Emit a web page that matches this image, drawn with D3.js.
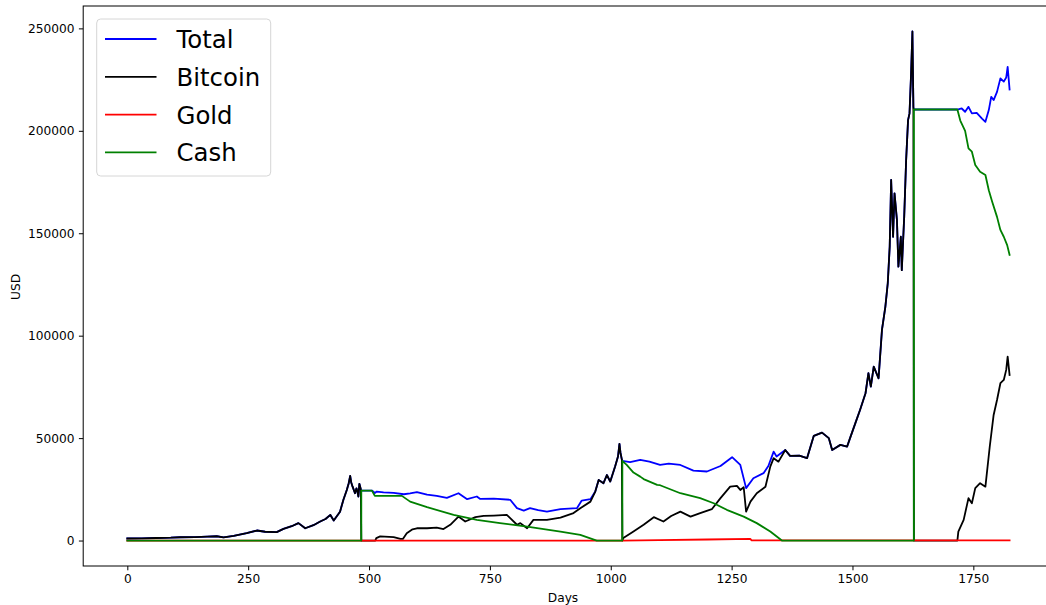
<!DOCTYPE html>
<html>
<head>
<meta charset="utf-8">
<script src="https://cdn.jsdelivr.net/npm/d3@7"></script>
<style>
  html, body { margin: 0; padding: 0; background: #fff; }
  svg { display: block; font-family: "DejaVu Sans", sans-serif; }
</style>
</head>
<body>
<svg id="chart" width="1046" height="605"></svg>
<script>
// Portfolio value by day, [day, USD]
const bitcoin = [
  [0,1000],[30,1100],[60,1250],[90,1400],[109,1600],[140,1700],[165,1900],[185,2100],[199,1600],
  [220,2300],[247,3600],[268,4900],[285,4300],[309,4100],[323,5700],[340,7000],[354,8500],[368,6000],
  [385,7500],[399,9300],[410,10500],[420,12500],[427,9800],[440,14100],[447,19900],[454,24700],
  [458,28000],[461,31600],[463,28500],[466,26300],[471,23100],[474,25500],[476,23900],[478,21500],
  [480,27700],[483,25000],[484,0],[513,0],[515,1200],[523,2000],[551,1700],[565,800],[570,800],
  [578,3600],[590,5500],[599,6000],[620,6000],[640,6300],[654,5600],[668,7700],[685,11700],[699,9300],
  [720,11400],[737,12000],[758,12200],[785,12500],[792,10900],[806,7700],[813,8500],[827,6000],
  [840,10100],[868,10100],[896,11200],[923,13400],[937,15800],[958,19000],[968,23900],[975,29600],
  [985,28000],[992,32000],[999,28800],[1009,36100],[1015,41000],[1018,47200],[1020,43000],[1023,39500],
  [1024,0],[1026,1200],[1047,4400],[1068,7700],[1089,11400],[1109,9300],[1125,12000],[1144,14100],
  [1165,11700],[1185,13400],[1209,15300],[1227,20700],[1247,26300],[1261,26700],[1268,24700],
  [1275,26000],[1280,14100],[1289,19000],[1302,23100],[1320,26300],[1330,36100],[1337,40200],
  [1347,38500],[1361,44200],[1371,41300],[1390,41500],[1406,40200],[1420,51100],[1437,52700],
  [1451,50000],[1458,44200],[1475,46700],[1489,45900],[1495,50000],[1506,57300],[1516,64000],
  [1527,71900],[1533,81700],[1538,75100],[1544,84900],[1554,79200],[1561,102800],[1568,114100],
  [1573,125600],[1577,143400],[1580,176000],[1584,148300],[1587,169500],[1592,156400],[1595,133700],
  [1600,148300],[1602,132000],[1607,158000],[1611,185700],[1615,205200],[1618,208500],[1621,226300],
  [1624,248500],[1626,211700],[1627,0],[1717,0],[1719,4400],[1730,10100],[1740,20700],[1747,18200],
  [1754,25600],[1764,28000],[1775,26300],[1784,45900],[1792,61300],[1799,68600],[1806,76800],
  [1813,78400],[1818,83300],[1821,89800],[1825,80800]
];

const gold = [
  [0,0],[1024,0],[1100,250],[1200,500],[1289,800],[1291,100],[1825,100]
];

const cash = [
  [0,0],[484,0],[484,24400],[506,24400],[512,21800],[568,21800],[585,19000],[620,16300],[675,12500],
  [723,10100],[771,8500],[827,6800],[896,4400],[937,2800],[971,0],[1024,0],[1024,38900],[1033,36900],
  [1047,33200],[1061,31200],[1068,30000],[1096,27200],[1102,27000],[1144,23100],[1185,20700],
  [1213,18200],[1240,15000],[1275,11700],[1302,8500],[1330,4400],[1354,0],[1627,0],[1627,210400],
  [1717,210400],[1723,205000],[1733,200000],[1740,191400],[1747,189800],[1754,183300],[1764,180000],
  [1775,178400],[1782,171000],[1789,165400],[1799,158000],[1806,151600],[1813,148300],[1820,144200],
  [1825,139400]
];

// Total where cash is held alongside bitcoin
const totalMixedA = [
  [484,24400],[506,24400],[512,23200],[516,23900],[530,23500],[551,23300],[572,22600],[585,23000],
  [599,23600],[620,22400],[640,21800],[661,20800],[685,23100],[703,20200],[723,21500],[730,20300],
  [758,20500],[792,19900],[806,15800],[820,14600],[833,15800],[850,14800],[868,14100],[896,15300],
  [930,15800],[940,19500],[958,20200],[968,23900]
];
const totalMixedB = [
  [1024,38900],[1040,38300],[1061,39400],[1080,38500],[1102,36900],[1120,37500],[1144,36900],
  [1171,34100],[1199,33700],[1227,36400],[1251,40700],[1268,36900],[1280,25600],[1295,30400],
  [1316,32900],[1326,36400],[1337,43400],[1343,41000],[1354,43000]
];
const totalMixedC = [
  [1627,210400],[1717,210400],[1726,210900],[1733,209300],[1740,211700],[1747,208500],[1757,208800],
  [1768,206000],[1775,204400],[1782,210100],[1787,216600],[1792,215000],[1799,219000],[1806,225600],
  [1813,224000],[1818,226000],[1821,231200],[1825,220200]
];

const xTicks = [0, 250, 500, 750, 1000, 1250, 1500, 1750];
const yTicks = [0, 50000, 100000, 150000, 200000, 250000];

// Where everything sits in bitcoin, the total is the bitcoin line itself
const total = [
  ...bitcoin.filter(([d]) => d < 484),
  ...totalMixedA,
  ...bitcoin.filter(([d]) => d >= 975 && d <= 1023),
  ...totalMixedB,
  ...bitcoin.filter(([d]) => d >= 1361 && d <= 1626),
  ...totalMixedC
];

const series = [
  { name: "Total", data: total, color: "#0000ff" },
  { name: "Bitcoin", data: bitcoin, color: "#000000" },
  { name: "Gold", data: gold, color: "#ff0000" },
  { name: "Cash", data: cash, color: "#008000" }
];

(function draw() {
  const svg = d3.select("#chart");
  const plotLeft = 83.2, plotRight = 1053.7, plotTop = 6, plotBottom = 566;

  const x = d3.scaleLinear().domain([-91.25, 1916.25]).range([plotLeft, plotRight]);
  const y = d3.scaleLinear().domain([-12425, 260925]).range([plotBottom, plotTop]);

  svg.append("clipPath").attr("id", "plot-clip")
    .append("rect").attr("x", plotLeft).attr("y", plotTop)
    .attr("width", plotRight - plotLeft).attr("height", plotBottom - plotTop);

  const line = d3.line().x(d => x(d[0])).y(d => y(d[1]));

  const plot = svg.append("g").attr("clip-path", "url(#plot-clip)");
  series.forEach(s => {
    plot.append("path")
      .datum(s.data)
      .attr("fill", "none")
      .attr("stroke", s.color)
      .attr("stroke-width", 1.8)
      .attr("stroke-linejoin", "round")
      .attr("stroke-linecap", "square")
      .attr("d", line);
  });

  // Axes
  const xAxis = d3.axisBottom(x).tickValues(xTicks).tickSize(4.3).tickPadding(4.3)
    .tickFormat(d3.format("d"));
  const yAxis = d3.axisLeft(y).tickValues(yTicks).tickSize(4.3).tickPadding(4.3)
    .tickFormat(d3.format("d"));

  const gx = svg.append("g").attr("transform", `translate(0,${plotBottom})`).call(xAxis);
  const gy = svg.append("g").attr("transform", `translate(${plotLeft},0)`).call(yAxis);
  [gx, gy].forEach(g => {
    g.select(".domain").remove();
    g.selectAll(".tick line").attr("stroke", "#000").attr("stroke-width", 1);
    g.selectAll(".tick text").attr("fill", "#000").style("font-size", "12.2px")
      .style("font-family", "'DejaVu Sans', sans-serif");
  });

  // Spines
  svg.append("rect")
    .attr("x", plotLeft).attr("y", plotTop)
    .attr("width", plotRight - plotLeft).attr("height", plotBottom - plotTop)
    .attr("fill", "none").attr("stroke", "#000").attr("stroke-width", 1);

  // Axis titles
  svg.append("text")
    .attr("x", 563).attr("y", 602)
    .attr("text-anchor", "middle").style("font-size", "12.2px").text("Days");
  svg.append("text")
    .attr("transform", "translate(20,287) rotate(-90)")
    .attr("text-anchor", "middle").style("font-size", "12.2px").text("USD");

  // Legend
  const legend = svg.append("g");
  legend.append("rect")
    .attr("x", 96.7).attr("y", 19).attr("width", 174).attr("height", 157)
    .attr("rx", 4).attr("ry", 4)
    .attr("fill", "#fff").attr("fill-opacity", 0.8)
    .attr("stroke", "#d6d6d6").attr("stroke-width", 1);
  series.forEach((s, i) => {
    const ly = 39 + i * 37.8;
    legend.append("line")
      .attr("x1", 105).attr("x2", 156.5).attr("y1", ly).attr("y2", ly)
      .attr("stroke", s.color).attr("stroke-width", 1.8);
    legend.append("text")
      .attr("x", 176.5).attr("y", ly + 9)
      .style("font-size", "24.4px").attr("fill", "#000").text(s.name);
  });
})();
</script>
</body>
</html>
